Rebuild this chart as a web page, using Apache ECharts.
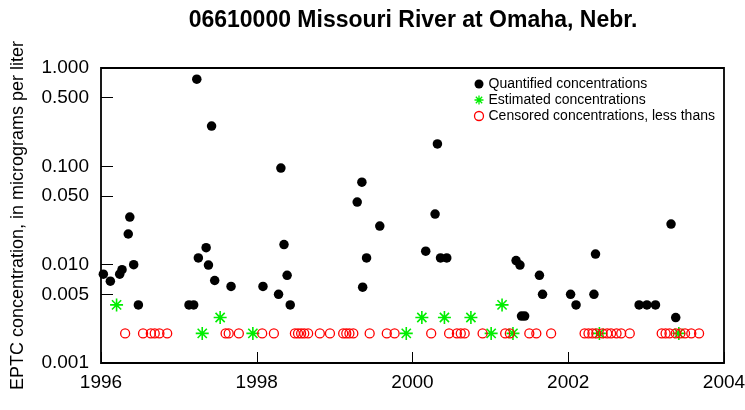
<!DOCTYPE html>
<html>
<head>
<meta charset="utf-8">
<script src="https://cdn.jsdelivr.net/npm/echarts@6/dist/echarts.min.js"></script>
<style>
  html, body { margin: 0; padding: 0; background: #fff; }
  #chart { width: 745px; height: 410px; }
</style>
</head>
<body>
<div id="chart"></div>
<script>
'use strict'

const FONT = '"Liberation Sans", Arial, Helvetica, sans-serif'

// quantified concentrations (decimal year, micrograms per liter)
const quantYears = [1996.03, 1996.12, 1996.24, 1996.27, 1996.35, 1996.37, 1996.42, 1996.48,
  1997.13, 1997.19, 1997.23, 1997.25, 1997.35, 1997.38, 1997.42, 1997.46, 1997.67,
  1998.08, 1998.28, 1998.31, 1998.35, 1998.39, 1998.43,
  1999.29, 1999.35, 1999.36, 1999.41, 1999.58,
  2000.17, 2000.29, 2000.32, 2000.36, 2000.44,
  2001.33, 2001.38, 2001.40, 2001.44, 2001.63, 2001.67,
  2002.03, 2002.10, 2002.33, 2002.35, 2002.91, 2003.01, 2003.12, 2003.32, 2003.38]
const quantValues = [0.008, 0.0068, 0.008, 0.0089, 0.0205, 0.0305, 0.010, 0.0039,
  0.0039, 0.0039, 0.77, 0.0117, 0.0149, 0.0099, 0.257, 0.0069, 0.006,
  0.006, 0.005, 0.096, 0.016, 0.0078, 0.0039,
  0.0433, 0.069, 0.0059, 0.0117, 0.0247,
  0.0137, 0.0327, 0.169, 0.0117, 0.0117,
  0.011, 0.0099, 0.003, 0.003, 0.0078, 0.005,
  0.005, 0.0039, 0.005, 0.0128, 0.0039, 0.0039, 0.0039, 0.0259, 0.0029]

// estimated concentrations
const estYears = [1996.20, 1997.30, 1997.53, 1997.95, 1999.92, 2000.12, 2000.41,
  2000.75, 2001.01, 2001.15, 2001.29, 2002.40, 2003.42]
const estValues = [0.0039, 0.002, 0.0029, 0.002, 0.002, 0.0029, 0.0029,
  0.0029, 0.002, 0.0039, 0.002, 0.002, 0.002]

// censored concentrations, plotted at the reporting limit
const censYears = [1996.31, 1996.54, 1996.64, 1996.69, 1996.75, 1996.85,
  1997.60, 1997.64, 1997.77, 1998.07, 1998.22,
  1998.49, 1998.53, 1998.57, 1998.61, 1998.66, 1998.81, 1998.94,
  1999.11, 1999.15, 1999.19, 1999.24, 1999.45, 1999.67, 1999.77,
  2000.24, 2000.47, 2000.57, 2000.62, 2000.67, 2000.90,
  2001.19, 2001.25, 2001.50, 2001.59, 2001.78,
  2002.21, 2002.26, 2002.31, 2002.36, 2002.44, 2002.50, 2002.55, 2002.62, 2002.68, 2002.79,
  2003.20, 2003.25, 2003.30, 2003.38, 2003.44, 2003.50, 2003.58, 2003.68]
const censValues = [0.002, 0.002, 0.002, 0.002, 0.002, 0.002,
  0.002, 0.002, 0.002, 0.002, 0.002,
  0.002, 0.002, 0.002, 0.002, 0.002, 0.002, 0.002,
  0.002, 0.002, 0.002, 0.002, 0.002, 0.002, 0.002,
  0.002, 0.002, 0.002, 0.002, 0.002, 0.002,
  0.002, 0.002, 0.002, 0.002, 0.002,
  0.002, 0.002, 0.002, 0.002, 0.002, 0.002, 0.002, 0.002, 0.002, 0.002,
  0.002, 0.002, 0.002, 0.002, 0.002, 0.002, 0.002, 0.002]

// axis ticks
const xTicks = [1996, 1998, 2000, 2002, 2004]
const yTicks = [0.001, 0.005, 0.01, 0.05, 0.1, 0.5, 1]

const STAR = 'path://M0,-10L0,10M-10,0L10,0M-7.07,-7.07L7.07,7.07M-7.07,7.07L7.07,-7.07'

function pairs(xs, ys) {
  return xs.map((x, i) => [x, ys[i]])
}

const chart = echarts.init(document.getElementById('chart'))

chart.setOption({
  animation: false,
  backgroundColor: '#fff',
  title: {
    text: '06610000 Missouri River at Omaha, Nebr.',
    left: 408,
    textAlign: 'center',
    top: 4,
    textStyle: { fontFamily: FONT, fontSize: 23, fontWeight: 'bold', color: '#000' }
  },
  legend: {
    orient: 'vertical',
    left: 467,
    top: 72,
    itemWidth: 9,
    itemHeight: 9,
    itemGap: 2,
    textStyle: { fontFamily: FONT, fontSize: 14, color: '#000' },
    data: [
      { name: 'Quantified concentrations', icon: 'circle', itemStyle: { color: '#000', opacity: 1 } },
      { name: 'Estimated concentrations', icon: STAR, itemStyle: { color: 'none', borderColor: '#00ee00', borderWidth: 1.3, opacity: 1 } },
      { name: 'Censored concentrations, less thans', icon: 'circle', itemStyle: { color: 'none', borderColor: '#ff0000', borderWidth: 1.3, opacity: 1 } }
    ]
  },
  grid: {
    left: 101, right: 21, top: 68, bottom: 47,
    outerBoundsMode: 'none',
    containLabel: false,
    show: true,
    borderColor: '#000',
    borderWidth: 1.8
  },
  xAxis: {
    type: 'value',
    min: 1996,
    max: 2004,
    interval: 2,
    axisLine: { show: false },
    splitLine: { show: false },
    axisTick: { inside: true, length: 11, lineStyle: { color: '#000', width: 1 }, customValues: xTicks },
    axisLabel: {
      customValues: xTicks,
      margin: 10,
      color: '#000',
      fontFamily: FONT,
      fontSize: 19,
      formatter: v => String(v)
    }
  },
  yAxis: {
    type: 'log',
    logBase: 10,
    min: 0.001,
    max: 1,
    name: 'EPTC concentration, in micrograms per liter',
    nameLocation: 'middle',
    nameGap: 74,
    nameRotate: 90,
    nameTextStyle: { fontFamily: FONT, fontSize: 18, color: '#000' },
    axisLine: { show: false },
    splitLine: { show: false },
    minorTick: { show: false },
    axisTick: { inside: true, length: 12, lineStyle: { color: '#000', width: 1 }, customValues: yTicks },
    axisLabel: {
      customValues: yTicks,
      margin: 12,
      color: '#000',
      fontFamily: FONT,
      fontSize: 19,
      formatter: v => Number(v).toFixed(3)
    }
  },
  series: [
    {
      name: 'Quantified concentrations',
      type: 'scatter',
      symbol: 'circle',
      symbolSize: 9.5,
      itemStyle: { color: '#000', opacity: 1 },
      data: pairs(quantYears, quantValues)
    },
    {
      name: 'Estimated concentrations',
      type: 'scatter',
      symbol: STAR,
      symbolSize: 13,
      itemStyle: { color: 'none', borderColor: '#00ee00', borderWidth: 1.6, opacity: 1 },
      data: pairs(estYears, estValues)
    },
    {
      name: 'Censored concentrations, less thans',
      type: 'scatter',
      symbol: 'circle',
      symbolSize: 9,
      itemStyle: { color: 'none', borderColor: '#ff0000', borderWidth: 1.3, opacity: 1 },
      data: pairs(censYears, censValues)
    }
  ]
})
</script>
</body>
</html>
